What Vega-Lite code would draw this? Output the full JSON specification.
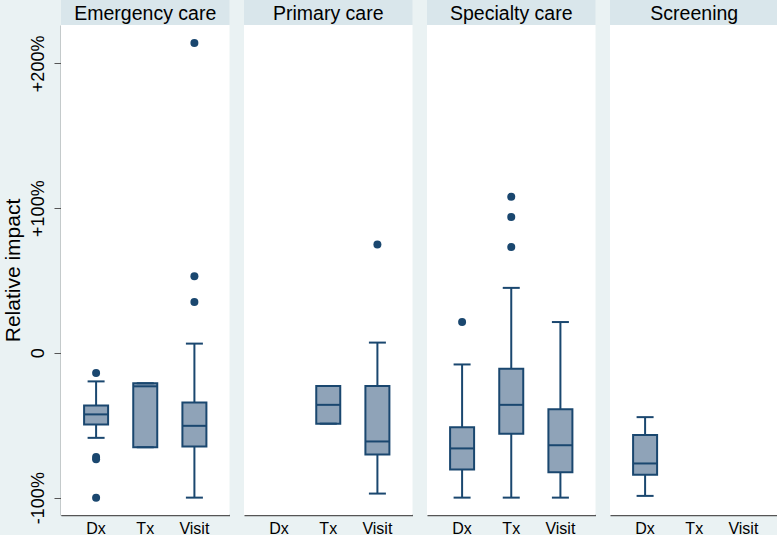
{
  "$schema": "https://vega.github.io/schema/vega-lite/v6.json",
  "background": "#eaf2f3",
  "padding": {"left": 2, "top": 0, "right": 0, "bottom": 0},
  "config": {
    "font": "Liberation Sans",
    "view": {"stroke": null, "fill": null},
    "axisX": {"title": null, "labelAngle": 0, "labelFontSize": 16, "labelColor": "#000000",
      "ticks": false, "labelPadding": 5, "domainColor": "#555555", "domainWidth": 1.5, "grid": false},
    "axisY": {"titleFontSize": 21, "titleFontWeight": "normal", "titleColor": "#000000", "titlePadding": 6,
      "labelAngle": -90, "labelAlign": "center", "labelBaseline": "bottom", "labelFontSize": 18, "labelColor": "#000000", "labelPadding": 7,
      "tickSize": 7, "tickColor": "#555555", "domainColor": "#555555", "domainWidth": 1.5,
      "gridColor": "#eaf2f3", "gridWidth": 1.5}
  },
  "data": {
    "values": [
      {"care": "Emergency care", "kind": "hdr"},
      {"care": "Primary care", "kind": "hdr"},
      {"care": "Specialty care", "kind": "hdr"},
      {"care": "Screening", "kind": "hdr"},
      {"care": "Emergency care", "type": "Dx", "kind": "box", "lower": -58.7, "q1": -49.5, "median": -42.5, "q3": -36.3, "upper": -19.7},
      {"care": "Emergency care", "type": "Tx", "kind": "box", "lower": -65.2, "q1": -65.2, "median": -23.1, "q3": -21.0, "upper": -21.0},
      {"care": "Emergency care", "type": "Visit", "kind": "box", "lower": -100, "q1": -64.7, "median": -50.4, "q3": -34.2, "upper": 6.4},
      {"care": "Primary care", "type": "Tx", "kind": "box", "lower": -48.9, "q1": -48.9, "median": -35.9, "q3": -22.9, "upper": -22.9},
      {"care": "Primary care", "type": "Visit", "kind": "box", "lower": -97.2, "q1": -70.2, "median": -61.2, "q3": -22.9, "upper": 7.1},
      {"care": "Specialty care", "type": "Dx", "kind": "box", "lower": -100, "q1": -80.6, "median": -66.0, "q3": -51.3, "upper": -8.0},
      {"care": "Specialty care", "type": "Tx", "kind": "box", "lower": -100, "q1": -55.8, "median": -35.9, "q3": -10.9, "upper": 44.9},
      {"care": "Specialty care", "type": "Visit", "kind": "box", "lower": -100, "q1": -82.5, "median": -63.8, "q3": -39.0, "upper": 21.3},
      {"care": "Screening", "type": "Dx", "kind": "box", "lower": -98.8, "q1": -84.2, "median": -76.4, "q3": -56.7, "upper": -44.4},
      {"care": "Emergency care", "type": "Dx", "kind": "out", "value": -13.9},
      {"care": "Emergency care", "type": "Dx", "kind": "out", "value": -71.9},
      {"care": "Emergency care", "type": "Dx", "kind": "out", "value": -73.5},
      {"care": "Emergency care", "type": "Dx", "kind": "out", "value": -100},
      {"care": "Emergency care", "type": "Visit", "kind": "out", "value": 214.1},
      {"care": "Emergency care", "type": "Visit", "kind": "out", "value": 52.9},
      {"care": "Emergency care", "type": "Visit", "kind": "out", "value": 35.1},
      {"care": "Primary care", "type": "Visit", "kind": "out", "value": 74.9},
      {"care": "Specialty care", "type": "Dx", "kind": "out", "value": 21.3},
      {"care": "Specialty care", "type": "Tx", "kind": "out", "value": 107.8},
      {"care": "Specialty care", "type": "Tx", "kind": "out", "value": 93.9},
      {"care": "Specialty care", "type": "Tx", "kind": "out", "value": 73.1}
    ]
  },
  "facet": {
    "column": {"field": "care", "type": "nominal", "header": null,
      "sort": ["Emergency care", "Primary care", "Specialty care", "Screening"]}
  },
  "spacing": {"column": 14},
  "spec": {
    "width": 168.5,
    "height": 515,
    "layer": [
      {
        "transform": [{"filter": "datum.kind === 'hdr'"}],
        "mark": {"type": "rect", "fill": "#ffffff"},
        "encoding": {
          "y": {"datum": -112, "type": "quantitative",
            "scale": {"domain": [-112, 226.5], "range": [515, 25], "nice": false, "zero": false},
            "axis": {"title": "Relative impact", "values": [-100, 0, 100, 200],
              "labelExpr": "datum.value > 0 ? '+' + datum.value + '%' : (datum.value < 0 ? datum.value + '%' : '0')"}
          },
          "y2": {"datum": 226.5}
        }
      },
      {
        "transform": [{"filter": "datum.kind === 'hdr'"}],
        "mark": {"type": "rect", "fill": "#d9e6eb"},
        "encoding": {
          "y": {"datum": 226.5, "type": "quantitative"},
          "y2": {"datum": 243.77}
        }
      },
      {
        "transform": [{"filter": "datum.kind === 'hdr'"}],
        "mark": {"type": "text", "fontSize": 19.5, "color": "#000000", "baseline": "middle", "align": "center", "dy": 1},
        "encoding": {
          "y": {"datum": 235.1, "type": "quantitative"},
          "text": {"field": "care", "type": "nominal"}
        }
      },
      {
        "encoding": {
          "x": {"field": "type", "type": "nominal", "sort": ["Dx", "Tx", "Visit"],
            "scale": {"domain": ["Dx", "Tx", "Visit"], "paddingInner": 0, "paddingOuter": 0.214}}
        },
        "layer": [
          {
            "transform": [{"filter": "datum.kind === 'box'"}],
            "mark": {"type": "rule", "color": "#1a476f", "strokeWidth": 2},
            "encoding": {
              "y": {"field": "lower", "type": "quantitative"},
              "y2": {"field": "q1"}
            }
          },
          {
            "transform": [{"filter": "datum.kind === 'box'"}],
            "mark": {"type": "rule", "color": "#1a476f", "strokeWidth": 2},
            "encoding": {
              "y": {"field": "q3", "type": "quantitative"},
              "y2": {"field": "upper"}
            }
          },
          {
            "transform": [{"filter": "datum.kind === 'box'"}],
            "mark": {"type": "bar", "fill": "#8fa3b8", "stroke": "#1a476f", "strokeWidth": 2, "width": 24},
            "encoding": {
              "y": {"field": "q1", "type": "quantitative"},
              "y2": {"field": "q3"}
            }
          },
          {
            "transform": [{"filter": "datum.kind === 'box'"}],
            "mark": {"type": "tick", "color": "#1a476f", "thickness": 2, "size": 24, "opacity": 1},
            "encoding": {"y": {"field": "median", "type": "quantitative"}}
          },
          {
            "transform": [{"filter": "datum.kind === 'box'"}],
            "mark": {"type": "tick", "color": "#1a476f", "thickness": 2, "size": 17, "opacity": 1},
            "encoding": {"y": {"field": "lower", "type": "quantitative"}}
          },
          {
            "transform": [{"filter": "datum.kind === 'box'"}],
            "mark": {"type": "tick", "color": "#1a476f", "thickness": 2, "size": 17, "opacity": 1},
            "encoding": {"y": {"field": "upper", "type": "quantitative"}}
          },
          {
            "transform": [{"filter": "datum.kind === 'out'"}],
            "mark": {"type": "circle", "color": "#1a476f", "size": 64, "opacity": 1},
            "encoding": {"y": {"field": "value", "type": "quantitative"}}
          }
        ]
      }
    ]
  }
}
